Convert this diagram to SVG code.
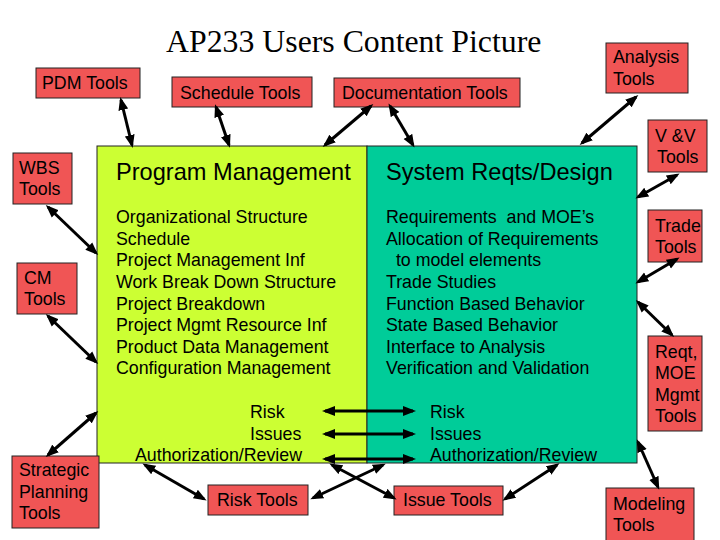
<svg xmlns="http://www.w3.org/2000/svg" width="720" height="540" viewBox="0 0 720 540">
<defs>
<marker id="ah" markerUnits="userSpaceOnUse" markerWidth="13" markerHeight="11" refX="10" refY="5.5" orient="auto-start-reverse">
<path d="M0,0.5 L13,5.5 L0,10.5 z" fill="#000"/>
</marker>
<style>
.tool{fill:#F05555;stroke:#222;stroke-width:1}
.t{font-family:"Liberation Sans",Arial,sans-serif;font-size:17.8px;fill:#000}
.h{font-family:"Liberation Sans",Arial,sans-serif;font-size:23.6px;fill:#000}
.title{font-family:"Liberation Serif","Times New Roman",serif;font-size:31.8px;fill:#000}
.c line{stroke:#000;stroke-width:3;marker-start:url(#ah);marker-end:url(#ah)}
.pre{white-space:pre}
</style>
</defs>
<rect width="720" height="540" fill="#fff"/>
<text class="title" x="166" y="52">AP233 Users Content Picture</text>

<g id="program-management">
<rect x="97" y="146" width="270" height="317" fill="#CCFF33" stroke="#222" stroke-width="1"/>
<text class="h" x="116" y="180">Program Management</text>
<text class="t" x="116" y="223">Organizational Structure</text>
<text class="t" x="116" y="245">Schedule</text>
<text class="t" x="116" y="266">Project Management Inf</text>
<text class="t" x="116" y="288">Work Break Down Structure</text>
<text class="t" x="116" y="310">Project Breakdown</text>
<text class="t" x="116" y="331">Project Mgmt Resource Inf</text>
<text class="t" x="116" y="353">Product Data Management</text>
<text class="t" x="116" y="374">Configuration Management</text>
<text class="t" x="250" y="418">Risk</text>
<text class="t" x="250" y="440">Issues</text>
<text class="t" x="135" y="461">Authorization/Review</text>
</g>

<g id="system-reqts-design">
<rect x="367" y="146" width="270" height="317" fill="#00CC99" stroke="#222" stroke-width="1"/>
<text class="h" x="386" y="180">System Reqts/Design</text>
<text class="t pre" x="386" y="223">Requirements  and MOE’s</text>
<text class="t" x="386" y="245">Allocation of Requirements</text>
<text class="t pre" x="386" y="266">  to model elements</text>
<text class="t" x="386" y="288">Trade Studies</text>
<text class="t" x="386" y="310">Function Based Behavior</text>
<text class="t" x="386" y="331">State Based Behavior</text>
<text class="t" x="386" y="353">Interface to Analysis</text>
<text class="t" x="386" y="374">Verification and Validation</text>
<text class="t" x="430" y="418">Risk</text>
<text class="t" x="430" y="440">Issues</text>
<text class="t" x="430" y="461">Authorization/Review</text>
</g>

<g id="pdm-tools"><rect class="tool" x="36" y="68" width="104" height="30"/><text class="t" x="42" y="89">PDM Tools</text></g>
<g id="schedule-tools"><rect class="tool" x="172" y="77" width="140" height="30"/><text class="t" x="180" y="99">Schedule Tools</text></g>
<g id="documentation-tools"><rect class="tool" x="334" y="78" width="186" height="29"/><text class="t" x="342" y="99">Documentation Tools</text></g>
<g id="analysis-tools"><rect class="tool" x="606" y="43" width="82" height="50"/><text class="t" x="613" y="63">Analysis</text><text class="t" x="613" y="85">Tools</text></g>
<g id="vv-tools"><rect class="tool" x="648" y="120" width="59" height="52"/><text class="t" x="655" y="142">V &amp;V</text><text class="t" x="657" y="163">Tools</text></g>
<g id="trade-tools"><rect class="tool" x="648" y="210" width="54" height="52"/><text class="t" x="655" y="232">Trade</text><text class="t" x="655" y="253">Tools</text></g>
<g id="reqt-moe-tools"><rect class="tool" x="648" y="336" width="54" height="95"/><text class="t" x="655" y="358">Reqt,</text><text class="t" x="655" y="379">MOE</text><text class="t" x="655" y="401">Mgmt</text><text class="t" x="655" y="422">Tools</text></g>
<g id="wbs-tools"><rect class="tool" x="13" y="153" width="59" height="51"/><text class="t" x="19" y="174">WBS</text><text class="t" x="19" y="195">Tools</text></g>
<g id="cm-tools"><rect class="tool" x="17" y="263" width="60" height="51"/><text class="t" x="24" y="284">CM</text><text class="t" x="24" y="305">Tools</text></g>
<g id="strategic-planning-tools"><rect class="tool" x="12" y="456" width="87" height="72"/><text class="t" x="19" y="476">Strategic</text><text class="t" x="19" y="498">Planning</text><text class="t" x="19" y="519">Tools</text></g>
<g id="risk-tools"><rect class="tool" x="208" y="485" width="100" height="30"/><text class="t" x="217" y="506">Risk Tools</text></g>
<g id="issue-tools"><rect class="tool" x="394" y="486" width="109" height="29"/><text class="t" x="403" y="506">Issue Tools</text></g>
<g id="modeling-tools"><rect class="tool" x="606" y="488" width="88" height="56"/><text class="t" x="613" y="510">Modeling</text><text class="t" x="613" y="531">Tools</text></g>

<g id="connectors" class="c">
<line x1="121" y1="100" x2="132" y2="145"/>
<line x1="216" y1="107" x2="229" y2="145"/>
<line x1="371" y1="106" x2="325" y2="145"/>
<line x1="390" y1="106" x2="413" y2="145"/>
<line x1="636" y1="97" x2="582" y2="143"/>
<line x1="677" y1="175" x2="638" y2="197"/>
<line x1="677" y1="259" x2="638" y2="282"/>
<line x1="638" y1="302" x2="672" y2="335"/>
<line x1="48" y1="207" x2="96" y2="253"/>
<line x1="48" y1="316" x2="96" y2="362"/>
<line x1="48" y1="455" x2="96" y2="413"/>
<line x1="325" y1="411" x2="413" y2="411"/>
<line x1="325" y1="434" x2="413" y2="434"/>
<line x1="325" y1="459" x2="413" y2="459"/>
<line x1="204" y1="499" x2="145" y2="465"/>
<line x1="313" y1="498" x2="383" y2="465"/>
<line x1="332" y1="465" x2="394" y2="498"/>
<line x1="505" y1="499" x2="557" y2="465"/>
<line x1="638" y1="442" x2="658" y2="487"/>
</g>
</svg>
